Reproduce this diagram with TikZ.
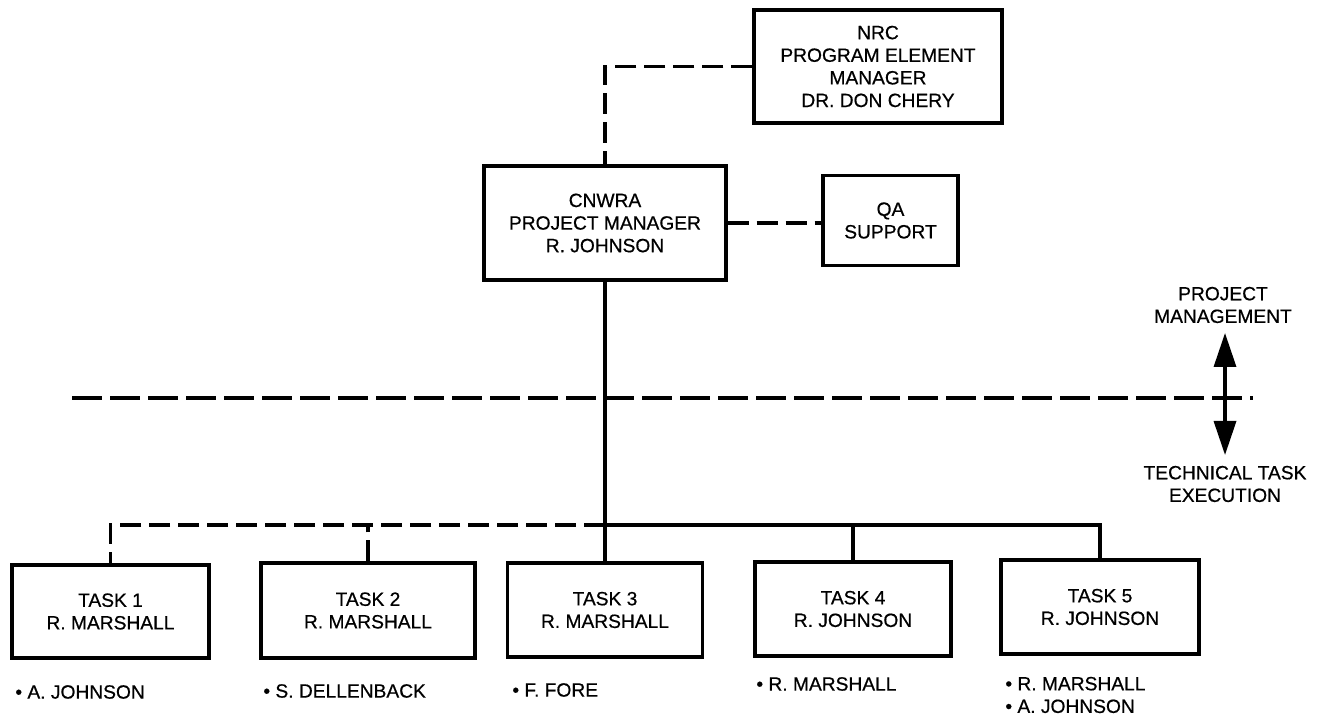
\documentclass[tikz,border=0pt]{standalone}
\usepackage{fontspec}
\setmainfont{Liberation Sans}[UprightFeatures={FakeBold=0.6}]
\usetikzlibrary{arrows.meta,positioning}

\begin{document}
\begin{tikzpicture}[x=0.5pt, y=-0.5pt,
        every node/.style={font=\fontsize{9.6}{11.3}\selectfont, align=center},
        box/.style={draw, line width=1.7pt, inner sep=0pt},
        conn/.style={line width=1.7pt},
        dconn/.style={line width=1.7pt, dash pattern=on 10.5pt off 4pt},
        levelline/.style={line width=1.7pt, dash pattern=on 15pt off 4pt},
        biarrow/.style={line width=1.7pt, {Triangle[length=17pt, width=11pt]}-{Triangle[length=17pt, width=11pt]}}]
        \useasboundingbox (0, 0) rectangle (1322, 715);
        \node[box, minimum width=124pt, minimum height=56.5pt] (nrc) at (878, 66.5)
                {NRC\\PROGRAM ELEMENT\\MANAGER\\DR. DON CHERY};
        \node[box, minimum width=121pt, minimum height=57pt] (pm) at (605, 223)
                {CNWRA\\PROJECT MANAGER\\R. JOHNSON};
        \node[box, minimum width=67.5pt, minimum height=45pt] (qa) at (890.5, 220.5)
                {QA\\SUPPORT};
        \node[box, minimum width=98.5pt, minimum height=46.5pt] (t1) at (110.5, 611.5)
                {TASK 1\\R. MARSHALL};
        \node[box, minimum width=107pt, minimum height=47.5pt] (t2) at (368, 610.5)
                {TASK 2\\R. MARSHALL};
        \node[box, minimum width=97.5pt, minimum height=47pt] (t3) at (605, 610)
                {TASK 3\\R. MARSHALL};
        \node[box, minimum width=98pt, minimum height=47pt] (t4) at (853, 609)
                {TASK 4\\R. JOHNSON};
        \node[box, minimum width=99pt, minimum height=47pt] (t5) at (1100, 607)
                {TASK 5\\R. JOHNSON};
        \node[anchor=west, inner sep=0pt] (s1) at (15, 692) {• A. JOHNSON};
        \node[anchor=west, inner sep=0pt] (s2) at (263, 691) {• S. DELLENBACK};
        \node[anchor=west, inner sep=0pt] (s3) at (512, 690) {• F. FORE};
        \node[anchor=west, inner sep=0pt] (s4) at (756, 684) {• R. MARSHALL};
        \node[anchor=west, inner sep=0pt, align=left] (s5) at (1005, 695) {• R. MARSHALL\\• A. JOHNSON};
        \node (mgmt) at (1223, 305) {PROJECT\\MANAGEMENT};
        \node (exec) at (1225, 484) {TECHNICAL TASK\\EXECUTION};
        \coordinate (j) at (605, 525);
        \coordinate (l1) at (72, 398);
        \coordinate (l2) at (1253, 398);
        \coordinate (up) at (1225, 333);
        \coordinate (dn) at (1225, 455);
        \draw[dconn] (nrc.west) -| (pm.north);
        \draw[dconn] (pm.east) -- (qa.west |- pm.east);
        \draw[conn] (pm.south) -- (t3.north);
        \draw[conn] (j) -| (t5.north);
        \draw[conn] (t4.north) -- (t4.north |- j);
        \draw[dconn] (j) -| (t1.north);
        \draw[dconn] (t2.north) -- (t2.north |- j);
        \draw[levelline] (l1) -- (l2);
        \draw[biarrow] (up) -- (dn);
\end{tikzpicture}
\end{document}
